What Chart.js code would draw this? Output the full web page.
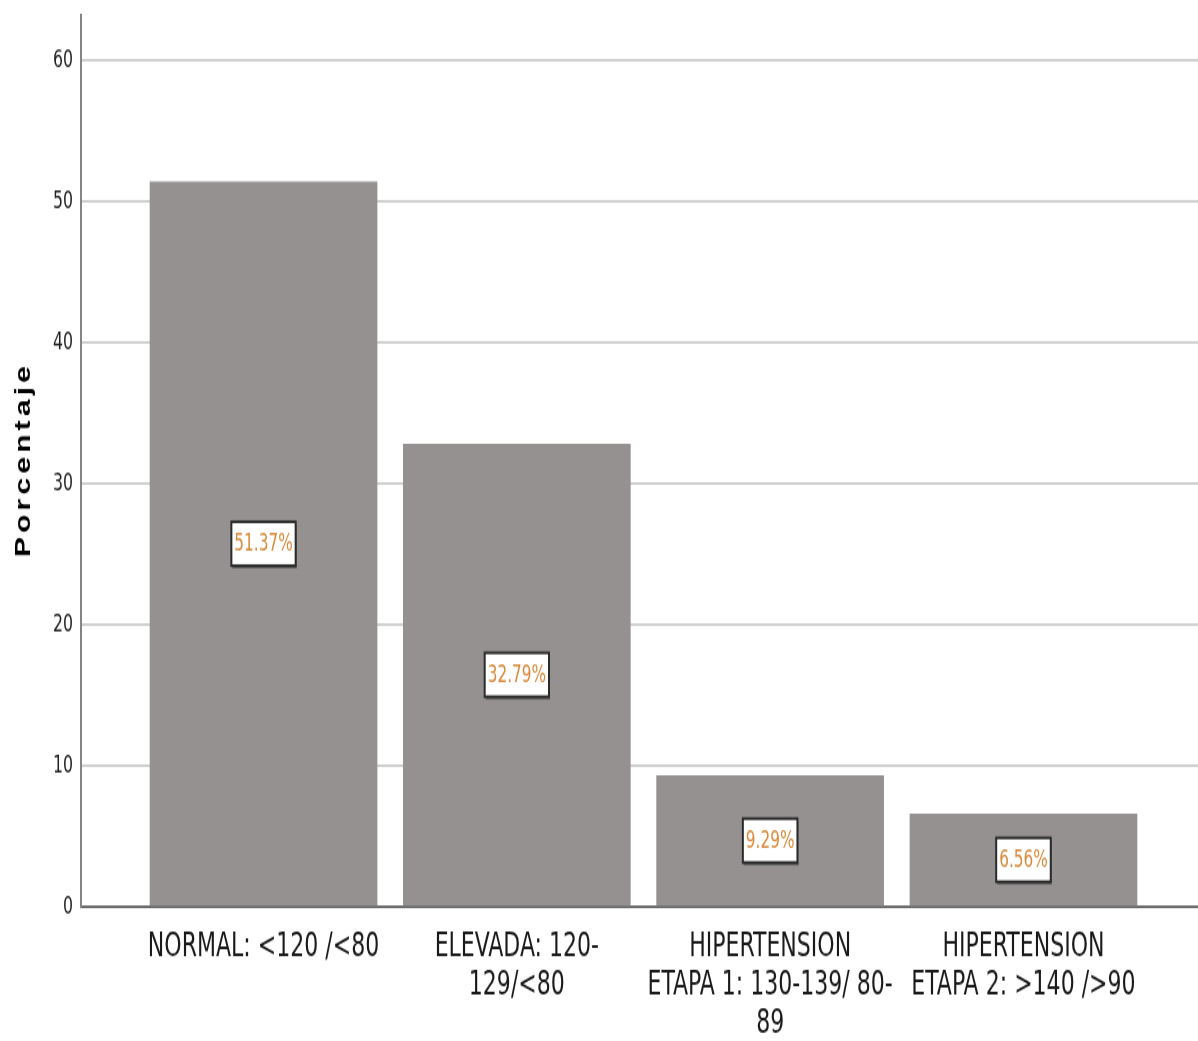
<!DOCTYPE html>
<html>
<head>
<meta charset="utf-8">
<script src="https://cdn.jsdelivr.net/npm/chart.js@4"></script>
<style>
  html, body { margin: 0; padding: 0; background: #fff; overflow: hidden; }
</style>
</head>
<body>
<!-- drawn at 1198x760 and shown at 1198x1041: the original picture is stretched vertically -->
<canvas id="chart" width="1198" height="760" style="display:block;width:1198px;height:1041px"></canvas>
<script>
// ─── data ───
const categories = [
    ['NORMAL: <120 /<80'],
    ['ELEVADA: 120-', '129/<80'],
    ['HIPERTENSION', 'ETAPA 1: 130-139/ 80-', '89'],
    ['HIPERTENSION', 'ETAPA 2: >140 />90'],
];
const percents   = [51.37, 32.79, 9.29, 6.56];
const yTicks     = [0, 10, 20, 30, 40, 50, 60];
const yTitle     = 'Porcentaje';

const narrow = '"Liberation Sans Narrow", "Arial Narrow", "DejaVu Sans Condensed", sans-serif';

// label boxes in the middle of each bar
const valueBoxes = {
    id: 'valueBoxes',
    afterDatasetsDraw(chart) {
        const ctx = chart.ctx;
        const meta = chart.getDatasetMeta(0);
        ctx.save();
        ctx.font = '17px ' + narrow;
        ctx.textAlign = 'center';
        ctx.textBaseline = 'middle';
        meta.data.forEach((bar, i) => {
            const text = percents[i].toFixed(2) + '%';
            const cy = (bar.y + bar.base) / 2;
            const w = ctx.measureText(text).width + 6;
            const h = 32;
            const x0 = bar.x - w / 2, y0 = cy - h / 2;
            ctx.fillStyle = '#5a5a5a';
            ctx.fillRect(x0 + 1, y0 + 2, w, h);
            ctx.fillStyle = '#fff';
            ctx.fillRect(x0, y0, w, h);
            ctx.strokeStyle = '#2b2b2b';
            ctx.lineWidth = 2;
            ctx.strokeRect(x0, y0, w, h);
            ctx.fillStyle = '#d98a3a';
            ctx.fillText(text, bar.x, cy + 1);
        });
        ctx.restore();
    }
};

// y title with wide letter spacing
const spacedTitle = {
    id: 'spacedTitle',
    afterDraw(chart) {
        const ctx = chart.ctx;
        const area = chart.chartArea;
        ctx.save();
        ctx.translate(24, (area.top + area.bottom) / 2);
        ctx.rotate(-Math.PI / 2);
        ctx.font = 'bold 22px "Liberation Sans", Arial, sans-serif';
        ctx.letterSpacing = '3px';
        ctx.fillStyle = '#000';
        ctx.textAlign = 'center';
        ctx.textBaseline = 'middle';
        ctx.fillText(yTitle, 1, 0);
        ctx.restore();
    }
};

new Chart(document.getElementById('chart'), {
    type: 'bar',
    data: {
        datasets: [{
            data: categories.map((c, i) => ({ x: i, y: percents[i] })),
            backgroundColor: '#959190',
            barThickness: 227,
        }],
    },
    options: {
        responsive: false,
        animation: false,
        devicePixelRatio: 1,
        layout: { padding: { top: 11, left: 0, right: 0, bottom: 0 } },
        plugins: { legend: { display: false }, tooltip: { enabled: false } },
        scales: {
            x: {
                type: 'linear',
                offset: false,
                min: -0.7205,
                max: 3.689,
                afterFit: (s) => { s.height = 98; s.paddingLeft = 0; s.paddingRight = 0; },
                grid: { display: true, offset: false, color: 'transparent', drawTicks: false },
                border: { display: true, color: '#6e6e6e', width: 2 },
                ticks: {
                    stepSize: 1,
                    autoSkip: false,
                    maxRotation: 0,
                    padding: 15,
                    color: '#1a1a1a',
                    font: { family: narrow, size: 24.5, lineHeight: 1.16 },
                    callback: (v) => (Number.isInteger(v) && categories[v]) ? categories[v] : '',
                },
            },
            y: {
                min: 0,
                max: 63.2,
                afterFit: (s) => { s.width = 81; s.paddingTop = 0; s.paddingBottom = 0; },
                afterBuildTicks: (s) => { s.ticks = yTicks.map(v => ({ value: v })); },
                grid: { color: '#d0d0d0', lineWidth: 2, drawTicks: false },
                border: { display: true, color: '#858585', width: 2 },
                ticks: {
                    padding: 8,
                    color: '#222',
                    font: { family: narrow, size: 17.5, lineHeight: 0.8 },
                },
            },
        },
    },
    plugins: [valueBoxes, spacedTitle],
});
</script>
</body>
</html>
